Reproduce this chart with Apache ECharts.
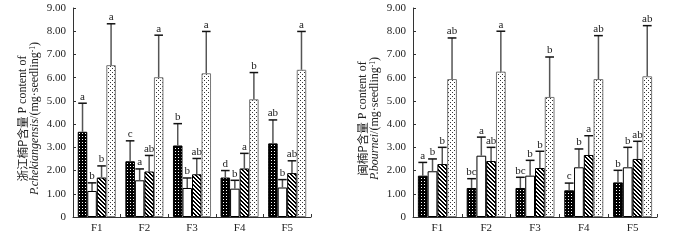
<!DOCTYPE html>
<html><head><meta charset="utf-8">
<script src="https://cdn.jsdelivr.net/npm/echarts@6/dist/echarts.min.js"></script>
<style>html,body{margin:0;padding:0;background:#fff}#c{width:675px;height:242px}</style>
</head><body><div id="c"></div>
<script>
const categories = ['F1','F2','F3','F4','F5'];
const yTicks = [0,1,2,3,4,5,6,7,8,9];

// Left: P. chekiangensis
const leftMeans = [
  [3.67, 2.40, 3.08, 1.70, 3.17],
  [1.12, 1.58, 1.25, 1.22, 1.27],
  [1.70, 1.96, 1.84, 2.09, 1.89],
  [6.54, 6.02, 6.19, 5.07, 6.34]
];
const leftSD = [
  [1.23, 0.88, 0.94, 0.30, 1.01],
  [0.35, 0.49, 0.43, 0.36, 0.34],
  [0.50, 0.69, 0.68, 0.65, 0.53],
  [1.78, 1.81, 1.80, 1.15, 1.65]
];
const leftLetters = [
  ['a','c','b','d','ab'],
  ['b','a','b','b','b'],
  ['b','ab','ab','a','ab'],
  ['a','a','a','b','a']
];
// Right: P. bournei
const rightMeans = [
  [1.78, 1.25, 1.25, 1.15, 1.49],
  [1.97, 2.64, 1.78, 2.14, 2.14],
  [2.28, 2.41, 2.11, 2.67, 2.50],
  [5.94, 6.26, 5.17, 5.94, 6.06]
];
const rightSD = [
  [0.57, 0.40, 0.46, 0.31, 0.52],
  [0.53, 0.80, 0.66, 0.79, 0.86],
  [0.72, 0.59, 0.72, 0.83, 0.76],
  [1.77, 1.74, 1.72, 1.87, 2.18]
];
const rightLetters = [
  ['a','bc','bc','c','b'],
  ['b','a','b','b','b'],
  ['b','ab','b','a','ab'],
  ['ab','a','b','ab','ab']
];

function makePattern(w, h, bg, fg, fn) {
  const c = document.createElement('canvas');
  c.width = w; c.height = h;
  const ctx = c.getContext('2d');
  ctx.fillStyle = bg; ctx.fillRect(0, 0, w, h);
  ctx.fillStyle = fg;
  for (let x = 0; x < w; x++) for (let y = 0; y < h; y++) if (fn(x, y)) ctx.fillRect(x, y, 1, 1);
  return { image: c, repeat: 'repeat' };
}
const patBlack = makePattern(3, 3, '#000', '#fff', (x, y) => x === 1 && y === 1);
const patHatch = makePattern(4, 4, '#fff', '#000', (x, y) => ((x - y) % 4 + 4) % 4 < 2);
const patDots = makePattern(4, 4, '#fff', '#333', (x, y) => (x === 0 && y === 0) || (x === 2 && y === 2));
const fills = [patBlack, '#fff', patHatch, patDots];
const borders = ['#000', '#000', '#000', '#777'];

const serif = '"Liberation Serif","DejaVu Serif",serif';
const cjk = '"Noto Sans CJK SC",' + serif;
const CAT_GAP = 0.2;

function yAxisFor(gi, cnPart, italicPart) {
  return {
    gridIndex: gi, type: 'value', min: 0, max: 9, interval: 1,
    axisLine: { show: true, lineStyle: { color: '#333', width: 1 } },
    axisTick: { show: true, inside: true, length: 3, lineStyle: { color: '#333' } },
    splitLine: { show: false },
    axisLabel: { color: '#222', fontFamily: serif, fontSize: 11, margin: 7,
      formatter: v => v === 0 ? '0' : v.toFixed(2) },
    name: '{c|' + cnPart + '}{n| P content of}\n{i|' + italicPart + '}{n|/(mg·seedling}{s|-1}{n|)}',
    nameLocation: 'middle', nameRotate: 90, nameGap: 32,
    nameTextStyle: { color: '#222', fontFamily: serif, fontSize: 12, lineHeight: 12,
      padding: [0, 12, 0, 0],
      rich: {
        c: { fontFamily: cjk, fontSize: 11.5, color: '#222', lineHeight: 12 },
        i: { fontStyle: 'italic', fontFamily: serif, fontSize: 12, color: '#222', lineHeight: 12 },
        n: { fontFamily: serif, fontSize: 12, color: '#222', lineHeight: 12 },
        s: { fontFamily: serif, fontSize: 7.5, color: '#222', verticalAlign: 'top', lineHeight: 12, padding: [0, 0, 5, 0] }
      } }
  };
}
function xAxisFor(gi) {
  return {
    gridIndex: gi, type: 'category', data: categories,
    axisLine: { lineStyle: { color: '#333', width: 1 } },
    axisTick: { show: true, inside: true, length: 3, lineStyle: { color: '#333' } },
    axisLabel: { color: '#222', fontFamily: serif, fontSize: 11, margin: 6 }
  };
}

function seriesFor(gi, means, sds, letters) {
  const out = [];
  for (let g = 0; g < 4; g++) {
    out.push({
      type: 'bar', xAxisIndex: gi, yAxisIndex: gi, data: means[g],
      barGap: '0%', barCategoryGap: (CAT_GAP * 100) + '%',
      itemStyle: { color: fills[g], borderColor: borders[g], borderWidth: 1 },
      silent: true, animation: false
    });
  }
  for (let g = 0; g < 4; g++) {
    const data = categories.map((c, k) => [k, means[g][k], sds[g][k], letters[g][k]]);
    out.push({
      type: 'custom', xAxisIndex: gi, yAxisIndex: gi, data: data, silent: true, animation: false, z: 5,
      renderItem: function (params, api) {
        const k = api.value(0), m = api.value(1), s = api.value(2);
        const band = api.size([1, 0])[0];
        const bw = band * (1 - CAT_GAP) / 4;
        const c0 = api.coord([k, m]);
        const c1 = api.coord([k, m + s]);
        const x = c0[0] + (g - 1.5) * bw;
        const hw = bw * 0.45;
        return { type: 'group', children: [
          { type: 'line', shape: { x1: x, y1: c0[1], x2: x, y2: c1[1] }, style: { stroke: '#555', lineWidth: 1.5 } },
          { type: 'line', shape: { x1: x - hw, y1: c1[1], x2: x + hw, y2: c1[1] }, style: { stroke: '#111', lineWidth: 1.5 } },
          { type: 'text', style: { text: data[k][3], x: x, y: c1[1] - 1, textAlign: 'center', textVerticalAlign: 'bottom',
              font: '11px ' + serif, fill: '#222' } }
        ] };
      }
    });
  }
  return out;
}

const chart = echarts.init(document.getElementById('c'), null, { renderer: 'canvas' });
chart.setOption({
  animation: false,
  grid: [
    { left: 73, top: 8, width: 238, height: 209 },
    { left: 413, top: 8, width: 244, height: 209 }
  ],
  xAxis: [xAxisFor(0), xAxisFor(1)],
  yAxis: [
    yAxisFor(0, '浙江楠P含量', 'P.chekiangensis'),
    yAxisFor(1, '闽楠P含量', 'P.bournei')
  ],
  series: seriesFor(0, leftMeans, leftSD, leftLetters).concat(seriesFor(1, rightMeans, rightSD, rightLetters))
});
</script></body></html>
